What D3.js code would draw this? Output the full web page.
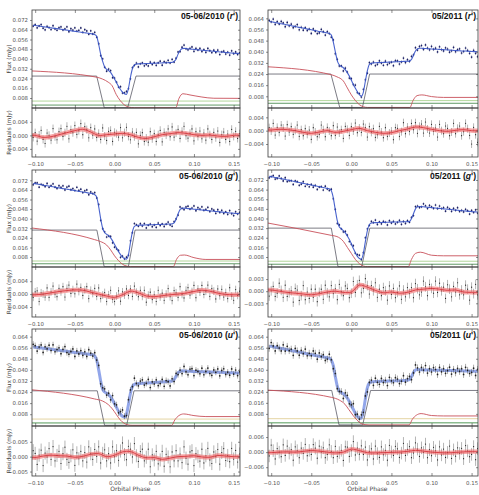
<!DOCTYPE html>
<html>
<head>
<meta charset="utf-8">
<script src="https://cdn.jsdelivr.net/npm/d3@7"></script>
<style>
  body { margin: 0; background: #fff; }
  svg { display: block; font-family: "DejaVu Sans", sans-serif; }
</style>
</head>
<body>
<div id="wrapper"></div>
<script>
// flux / residual arrays are in units of 1e-4 mJy, sampled every 0.0025 in phase from -0.1025
const UNIT = 1e-4;
const gridStart = -0.1025;
const gridStep = 0.0025;
const phaseDomain = [-0.104, 0.158];
const xTicks = [-0.10, -0.05, 0.00, 0.05, 0.10, 0.15];
// phases of the smoothed residual trend (red curve)
const trendPhase = [-0.104, -0.10, -0.09, -0.08, -0.07, -0.06, -0.05, -0.04, -0.03, -0.02, -0.01,
  0.00, 0.01, 0.02, 0.03, 0.04, 0.05, 0.06, 0.07, 0.08, 0.09, 0.10, 0.11, 0.12, 0.13, 0.14, 0.15, 0.158];

// ---- 05-06/2010 r'
const modelR10 = [676,675,673,670,668,665,663,661,658,656,653,651,649,646,644,641,639,637,634,632,629,627,625,622,620,617,615,613,610,608,605,
  600,585,520,440,380,335,315,305,290,265,235,205,175,150,128,115,110,160,250,320,352,358,
  360,361,361,362,363,363,364,365,365,366,367,367,368,369,369,370,371,372,
  380,400,440,470,485,487,
  485,483,482,480,479,477,476,474,472,471,469,468,466,465,463,461,460,458,457,455,453,452,450,449,447,446,446,445];
const residR10 = [-6, 8,-17,1,15,-12,-24,7,0,-14,20, -4,-13,11,20,-3,8,27,-10,17,8, 29,3,14,35,2,26,17,-7,23,1,
  19,-6,6,-12,22,-2,-15,12,15,-18, 9,5,-5,23,-7,8,24,-3,-13,10, -4,9,-25,0,8,-18,-8,-20,11,-10,
  5,-18,2,15,-19,9,1,19,-4,25, -5,7,18,-9,12,27,-1,-8,6,19, -16,11,-3,13,-10,7,-14,19,2,-12,
  9,-7,13,-21,2,10,-12,4,-18,18, -3, 12,-9,5];
const trendR10 = [0,0,-6,-4,2,8,14,18,10,0,2,4,6,2,-6,-9,-4,2,5,8,6,2,0,1,-2,-3,0,0];
const spotR10 = [[-0.104,0.0302],[-0.022,0.025],[-0.015,0.0235],[-0.008,0.021],[-0.003,0.018],[0.002,0.011],
  [0.007,0.006],[0.012,0.0025],[0.018,0.0005],[0.025,0],[0.077,0],[0.081,0.0075],[0.086,0.0115],
  [0.095,0.0105],[0.11,0.0088],[0.125,0.0078],[0.158,0.0077]];
const wdR10 = [[-0.104,0.026],[-0.0225,0.026],[-0.013,0],[0.0165,0],[0.027,0.026],[0.158,0.026]];
const secR10 = [0.0055, 0.0022];

// ---- 05/2011 r'
const modelR11 = [617,616,613,610,607,604,601,599,596,593,590,587,584,581,578,575,573,570,567,564,561,558,555,552,549,546,544,541,538,535,532,
  520,470,400,335,305,295,285,270,250,225,195,165,138,113,92,80,110,190,265,310,318,320,
  321,322,322,323,324,324,325,326,326,327,328,328,329,330,331,331,332,333,
  345,375,405,420,425,425,
  424,423,422,421,420,419,418,418,417,416,415,414,413,412,411,410,409,408,407,406,405,405,404,403,402,401,401,400];
const residR11 = [9, -1,22,-13,10,-5,17,8,-16,18,-4, 12,-11,1,17,-17,3,-15,6,-11,2, -26,9,-4,-18,-11,17,3,-18,10,-1,
  -15,15,-14,11,-7,3,-23,13,4,-14, 12,-1,23,-6,8,-5,20,9,-19,12, -5,6,-20,-12,13,-4,-21,9,-17,-7,
  -1,-27,9,7,-17,-3,24,-9,11,-2, 22,3,24,-8,13,20,-7,26,5,-7, 19,-2,8,-19,19,0,-9,14,7,-15,
  -4,22,-9,7,14,-15,-3,22,6,-14, -40, 10,-12,-35];
const trendR11 = [2,2,4,3,0,-5,-8,-4,0,-5,-2,3,7,0,-5,-8,-6,0,5,11,9,4,0,-2,1,3,0,0];
const spotR11 = [[-0.104,0.0292],[-0.025,0.0235],[-0.018,0.022],[-0.01,0.019],[-0.005,0.014],[0.0,0.009],
  [0.005,0.005],[0.01,0.002],[0.015,0.0005],[0.02,0],[0.073,0],[0.077,0.005],[0.082,0.0085],
  [0.088,0.009],[0.10,0.0078],[0.115,0.0072],[0.158,0.0072]];
const wdR11 = [[-0.104,0.024],[-0.0255,0.024],[-0.0145,0],[0.0138,0],[0.0228,0.024],[0.158,0.024]];
const secR11 = [0.0049, 0.0030];

// ---- 05-06/2010 g'
const modelG10 = [693,692,689,686,683,680,677,675,672,669,666,663,660,657,654,651,649,646,643,640,637,634,631,628,625,622,620,617,614,611,608,
  600,580,500,400,320,285,270,258,240,215,185,155,125,100,80,68,63,100,200,290,335,343,
  345,346,346,347,348,348,349,350,350,351,352,352,353,354,354,355,356,357,
  365,395,440,475,487,488,
  486,484,483,481,479,478,476,474,472,471,469,467,466,464,462,460,459,457,455,453,452,450,448,447,445,444,443,443];
const residG10 = [-10, 7,10,-23,4,0,-9,19,-10,7,25, 0,-8,18,7,23,-9,18,28,2,14, 1,31,8,21,-4,13,23,-14,12,2,
  18,-7,19,-14,-3,5,-23,-2,12,-16, -23,-6,10,-22,7,-3,16,-4,16,-7, 25,6,-8,12,-7,12,-25,-3,6,-17,
  -2,-23,12,-9,3,-19,0,17,-8,-20, 11,4,-10,23,-1,-12,12,20,-3,8, 27,-11,16,6,27,-1,9,28,-7,17,
  9,-15,16,-5,15,-9,5,-14,20,-6, -19, 14,-4,9];
const trendG10 = [-2,-2,0,4,8,11,13,12,6,0,-6,-10,-2,9,4,-6,-8,-5,-2,0,3,8,12,9,3,-1,-2,-2];
const spotG10 = [[-0.104,0.0322],[-0.025,0.0225],[-0.018,0.021],[-0.01,0.018],[-0.005,0.014],[0.0,0.009],
  [0.005,0.005],[0.01,0.002],[0.016,0.0003],[0.02,0],[0.074,0],[0.078,0.006],[0.083,0.0095],
  [0.088,0.0097],[0.10,0.0075],[0.115,0.006],[0.158,0.006]];
const wdG10 = [[-0.104,0.0305],[-0.0223,0.0305],[-0.0131,0],[0.0174,0],[0.0258,0.0305],[0.158,0.0305]];
const secG10 = [0.0047, 0.0024];

// ---- 05/2011 g'
const modelG11 = [750,748,745,741,738,734,731,727,724,720,717,713,710,706,703,699,696,692,689,685,682,678,675,671,668,664,661,657,654,650,647,
  630,570,470,380,330,315,300,280,255,225,190,150,115,85,68,63,110,210,300,350,362,365,
  366,366,367,367,368,368,369,369,370,370,371,371,372,372,373,373,374,375,
  400,440,480,498,500,499,
  497,495,494,492,490,489,487,485,484,482,480,479,477,475,474,472,470,469,467,465,464,462,460,459,457,456,455,454];
const residG11 = [-12, 1,12,-13,-5,20,2,-15,15,-13,-4, 1,-27,7,3,-23,-11,14,-21,-2,-18, 5,-15,5,-26,-3,5,-20,15,-4,-14,
  14,-6,6,-21,17,-1,-11,13,7,-16, -5,24,-3,16,27,-4,7,31,14,-7, 14,1,21,-15,5,-11,9,1,-22,13,
  -8,7,-16,-3,13,-20,3,-14,9,-6, 9,-16,19,6,-9,-2,25,11,-11,17, 7,-5,25,-3,20,1,10,-18,16,5,
  -14,12,-2,21,-9,3,-9,15,5,-22, 10, -6,17,-9];
const trendG11 = [3,3,0,-3,-5,-7,-9,-6,-2,0,-3,-2,15,10,2,-4,-2,-5,-3,3,5,7,5,2,3,-2,-3,-3];
const spotG11 = [[-0.104,0.0362],[-0.025,0.026],[-0.018,0.025],[-0.01,0.021],[-0.005,0.016],[0.0,0.011],
  [0.005,0.006],[0.01,0.0025],[0.015,0.0005],[0.02,0],[0.071,0],[0.075,0.006],[0.08,0.011],
  [0.086,0.012],[0.10,0.0095],[0.115,0.009],[0.158,0.009]];
const wdG11 = [[-0.104,0.032],[-0.025,0.032],[-0.0167,0],[0.0129,0],[0.023,0.032],[0.158,0.032]];
const secG11 = [0.0045, 0.0020];

// ---- 05-06/2010 u'
const modelU10 = [565,564,562,560,558,556,555,553,551,549,547,545,543,541,540,538,536,534,532,530,528,526,524,522,521,519,517,515,513,511,509,
  500,470,400,320,260,240,232,222,205,182,155,128,102,80,65,59,80,150,230,280,296,300,
  301,302,303,304,305,306,307,308,309,310,311,312,313,314,315,316,318,320,
  330,355,380,390,393,392,
  391,390,390,389,389,388,388,387,387,386,386,385,385,384,384,383,383,382,382,381,380,380,379,379,378,378,377,377];
const residU10 = [20, 11,-26,5,22,-30,12,-1,27,-9,34, -14,4,18,-23,10,32,-9,-19,3,23, -29,13,-7,18,-14,14,-18,33,10,-9,
  24,1,33,-21,11,23,-14,10,-21,33, 0,20,-12,19,46,7,-10,35,25,-1, 44,3,-16,17,25,-14,-2,25,-34,6,
  -11,18,-24,-11,18,-32,8,-1,-34,16, -14,20,-14,9,-20,33,-5,-25,16,20, -30,10,1,-15,25,-21,3,28,-11,-23,
  16,0,24,-25,14,27,-13,4,-17,28, -8, 21,-18,9];
const trendU10 = [-3,-3,2,5,3,2,-2,1,8,10,0,5,16,17,5,-4,-3,-9,-5,0,1,3,-1,-2,4,2,0,0];
const spotU10 = [[-0.104,0.0256],[-0.025,0.019],[-0.015,0.0175],[-0.008,0.015],[-0.003,0.012],[0.002,0.008],
  [0.007,0.004],[0.012,0.0015],[0.017,0.0003],[0.022,0],[0.072,0],[0.076,0.004],[0.081,0.007],
  [0.087,0.0082],[0.10,0.007],[0.115,0.0063],[0.158,0.0063]];
const wdU10 = [[-0.104,0.0249],[-0.0218,0.0249],[-0.0126,0],[0.0152,0],[0.0245,0.0249],[0.158,0.0249]];
const secU10 = [0.0045, 0.0017];

// ---- 05/2011 u'
const modelU11 = [571,570,567,564,561,558,555,552,549,546,543,540,537,534,531,528,525,522,519,516,513,510,507,504,501,498,496,493,490,487,484,
  470,430,350,280,245,235,225,212,195,170,140,112,85,62,50,48,100,190,270,305,312,314,
  315,315,316,316,317,317,318,318,319,319,320,320,321,321,322,323,325,330,
  350,380,398,402,401,400,
  399,399,398,398,398,397,397,397,396,396,396,395,395,395,394,394,394,393,393,393,392,392,391,391,390,390,389,389];
const residU11 = [-15, 28,6,-27,14,0,-18,29,-13,24,-4, 10,-32,21,6,-22,16,-5,31,-14,7, -9,30,16,-24,24,0,17,-22,-9,29,
  3,-22,23,-17,-2,7,-33,21,20,-17, 6,42,-11,16,-8,25,-9,20,-31,3, 13,-27,24,-6,-21,21,-10,7,-32,27,
  1,-13,23,13,-21,-4,35,-13,11,22, -22,-3,37,12,-17,17,-1,32,-22,10, -14,19,5,-31,21,-11,12,-21,-1,24,
  -25,9,-16,17,-5,15,-26,26,5,-18, -9, 22,-30,14];
const trendU11 = [-2,-2,0,1,0,3,6,4,0,-3,0,12,6,-2,-3,-2,-1,0,3,7,4,0,-2,-3,-1,1,2,2];
const spotU11 = [[-0.104,0.0252],[-0.025,0.020],[-0.015,0.018],[-0.008,0.015],[-0.003,0.011],[0.002,0.007],
  [0.007,0.0035],[0.012,0.001],[0.017,0.0002],[0.022,0],[0.072,0],[0.076,0.004],[0.081,0.007],
  [0.087,0.0082],[0.10,0.0068],[0.115,0.0065],[0.158,0.0065]];
const wdU11 = [[-0.104,0.025],[-0.0245,0.025],[-0.0154,0],[0.0141,0],[0.024,0.025],[0.158,0.025]];
const secU11 = [0.0045, 0.0015];

// tick labels
const fluxTicks72 = [0.008, 0.016, 0.024, 0.032, 0.040, 0.048, 0.056, 0.064, 0.072];
const fluxTicks64 = [0.008, 0.016, 0.024, 0.032, 0.040, 0.048, 0.056, 0.064];
const resTicks4 = [-0.004, 0.000, 0.004];
const resTicks3 = [-0.003, 0.000, 0.003];
const resTicks5 = [-0.005, 0.000, 0.005];
const resTicks6 = [-0.006, 0.000, 0.006];

const panels = [
  { date: "05-06/2010", band: "r", col: 0, row: 0, model: modelR10, resid: residR10, trend: trendR10, spot: spotR10, wd: wdR10, sec: secR10,
    fluxDomain: [-0.0002, 0.0802], fluxTicks: fluxTicks72, resDomain: [-0.0064, 0.0081], resTicks: resTicks4, err: 0.0012 },
  { date: "05/2011", band: "r", col: 1, row: 0, model: modelR11, resid: residR11, trend: trendR11, spot: spotR11, wd: wdR11, sec: secR11,
    fluxDomain: [-0.0004, 0.0700], fluxTicks: fluxTicks64, resDomain: [-0.0079, 0.0068], resTicks: resTicks4, err: 0.0012 },
  { date: "05-06/2010", band: "g", col: 0, row: 1, model: modelG10, resid: residG10, trend: trendG10, spot: spotG10, wd: wdG10, sec: secG10,
    fluxDomain: [-0.0003, 0.0806], fluxTicks: fluxTicks72, resDomain: [-0.0071, 0.0084], resTicks: resTicks4, err: 0.0012 },
  { date: "05/2011", band: "g", col: 1, row: 1, model: modelG11, resid: residG11, trend: trendG11, spot: spotG11, wd: wdG11, sec: secG11,
    fluxDomain: [-0.0003, 0.0803], fluxTicks: fluxTicks72, resDomain: [-0.0064, 0.0060], resTicks: resTicks3, err: 0.0012 },
  { date: "05-06/2010", band: "u", col: 0, row: 2, model: modelU10, resid: residU10, trend: trendU10, spot: spotU10, wd: wdU10, sec: secU10,
    fluxDomain: [-0.0005, 0.0695], fluxTicks: fluxTicks64, resDomain: [-0.0065, 0.0103], resTicks: resTicks5, err: 0.0022 },
  { date: "05/2011", band: "u", col: 1, row: 2, model: modelU11, resid: residU11, trend: trendU11, spot: spotU11, wd: wdU11, sec: secU11,
    fluxDomain: [-0.0008, 0.0696], fluxTicks: fluxTicks64, resDomain: [-0.0095, 0.0104], resTicks: resTicks6, err: 0.0025 },
];

const width = 479, height = 495;
const cols = [[32, 240], [268, 478]];
const rows = [
  { main: [10, 108], res: [108, 157] },
  { main: [170, 267], res: [267, 317] },
  { main: [329, 426], res: [426, 476] },
];

const svg = d3.select("#wrapper").append("svg")
  .attr("width", width).attr("height", height);
const defs = svg.append("defs");

const fmt3 = d3.format(".3f");
const fmt2 = d3.format(".2f");

function styleAxis(g) {
  g.select(".domain").remove();
  g.selectAll("line").attr("stroke", "#444").attr("stroke-width", 0.6);
  g.selectAll("text").attr("fill", "#555").attr("font-size", 5.4)
    .attr("font-family", "DejaVu Sans, sans-serif");
}

panels.forEach((p, k) => {
  const [x0, x1] = cols[p.col];
  const row = rows[p.row];
  const isU = p.band === "u";

  const x = d3.scaleLinear().domain(phaseDomain).range([x0, x1]);
  const y = d3.scaleLinear().domain(p.fluxDomain).range([row.main[1], row.main[0]]);
  const yr = d3.scaleLinear().domain(p.resDomain).range([row.res[1], row.res[0]]);

  const pts = p.model.map((m, i) => ({
    phase: gridStart + gridStep * i,
    model: m * UNIT,
    res: p.resid[i] * UNIT,
    flux: (m + p.resid[i]) * UNIT,
  }));

  // clip regions
  defs.append("clipPath").attr("id", `cm${k}`).append("rect")
    .attr("x", x0).attr("y", row.main[0]).attr("width", x1 - x0).attr("height", row.main[1] - row.main[0]);
  defs.append("clipPath").attr("id", `cr${k}`).append("rect")
    .attr("x", x0).attr("y", row.res[0]).attr("width", x1 - x0).attr("height", row.res[1] - row.res[0]);

  // ---------- main panel
  const main = svg.append("g").attr("clip-path", `url(#cm${k})`);

  const secColors = isU ? ["#e2cf98", "#3f8f46"] : ["#a9d18e", "#4f8f55"];
  p.sec.forEach((v, j) => {
    main.append("line")
      .attr("x1", x0).attr("x2", x1).attr("y1", y(v)).attr("y2", y(v))
      .attr("stroke", secColors[j]).attr("stroke-width", 0.9);
  });

  const compLine = d3.line().x(d => x(d[0])).y(d => y(d[1]));
  main.append("path").attr("d", compLine(p.wd))
    .attr("fill", "none").attr("stroke", "#5a5a66").attr("stroke-width", 0.8);
  main.append("path").attr("d", compLine.curve(d3.curveMonotoneX)(p.spot))
    .attr("fill", "none").attr("stroke", "#c8505a").attr("stroke-width", 0.9);

  const modelLine = d3.line().x(d => x(d.phase)).y(d => y(d.model)).curve(d3.curveMonotoneX);
  if (isU) {
    main.append("path").attr("d", modelLine(pts))
      .attr("fill", "none").attr("stroke", "#7f97e6").attr("stroke-width", 3).attr("opacity", 0.85);
  }

  main.append("g").selectAll("line").data(pts).join("line")
    .attr("x1", d => x(d.phase)).attr("x2", d => x(d.phase))
    .attr("y1", d => y(d.flux - p.err)).attr("y2", d => y(d.flux + p.err))
    .attr("stroke", isU ? "#555" : "#5d6490").attr("stroke-width", 0.5);
  main.append("g").selectAll("circle").data(pts).join("circle")
    .attr("cx", d => x(d.phase)).attr("cy", d => y(d.flux)).attr("r", 0.85)
    .attr("fill", isU ? "#222" : "#1e2266");

  if (!isU) {
    main.append("path").attr("d", modelLine(pts))
      .attr("fill", "none").attr("stroke", "#3552c8").attr("stroke-width", 1.1).attr("opacity", 0.9);
  }

  // ---------- residual panel
  const res = svg.append("g").attr("clip-path", `url(#cr${k})`);
  res.append("g").selectAll("line").data(pts).join("line")
    .attr("x1", d => x(d.phase)).attr("x2", d => x(d.phase))
    .attr("y1", d => yr(d.res - p.err)).attr("y2", d => yr(d.res + p.err))
    .attr("stroke", "#6a6a6a").attr("stroke-width", 0.5);
  res.append("g").selectAll("circle").data(pts).join("circle")
    .attr("cx", d => x(d.phase)).attr("cy", d => yr(d.res)).attr("r", 0.6)
    .attr("fill", "#222");

  const trendLine = d3.line().x((d, i) => x(trendPhase[i])).y(d => yr(d * UNIT)).curve(d3.curveCatmullRom);
  res.append("path").attr("d", trendLine(p.trend))
    .attr("fill", "none").attr("stroke", "#f06a6a").attr("stroke-width", 4.4).attr("opacity", 0.6);
  res.append("path").attr("d", trendLine(p.trend))
    .attr("fill", "none").attr("stroke", "#d42a32").attr("stroke-width", 0.8);

  // ---------- axes
  svg.append("g").attr("transform", `translate(${x0},0)`)
    .call(d3.axisLeft(y).tickValues(p.fluxTicks).tickSize(2).tickPadding(2).tickFormat(fmt3))
    .call(styleAxis);
  svg.append("g").attr("transform", `translate(${x0},0)`)
    .call(d3.axisLeft(yr).tickValues(p.resTicks).tickSize(2).tickPadding(2).tickFormat(fmt3))
    .call(styleAxis);
  svg.append("g").attr("transform", `translate(${x1},0)`)
    .call(d3.axisLeft(y).tickValues(p.fluxTicks).tickSize(2).tickFormat(""))
    .call(styleAxis);
  svg.append("g").attr("transform", `translate(${x1},0)`)
    .call(d3.axisLeft(yr).tickValues(p.resTicks).tickSize(2).tickFormat(""))
    .call(styleAxis);

  svg.append("g").attr("transform", `translate(0,${row.main[0]})`)
    .call(d3.axisBottom(x).tickValues(xTicks).tickSize(3).tickFormat(""))
    .call(styleAxis);
  svg.append("g").attr("transform", `translate(0,${row.main[1]})`)
    .call(d3.axisTop(x).tickValues(xTicks).tickSize(3).tickFormat(""))
    .call(styleAxis);
  svg.append("g").attr("transform", `translate(0,${row.main[1]})`)
    .call(d3.axisBottom(x).tickValues(xTicks).tickSize(3).tickFormat(""))
    .call(styleAxis);
  svg.append("g").attr("transform", `translate(0,${row.res[1]})`)
    .call(d3.axisTop(x).tickValues(xTicks).tickSize(3).tickFormat(""))
    .call(styleAxis);
  svg.append("g").attr("transform", `translate(0,${row.res[1]})`)
    .call(d3.axisBottom(x).tickValues(xTicks).tickSize(0).tickPadding(5).tickFormat(fmt2))
    .call(styleAxis);

  // frames
  [row.main, row.res].forEach(r => {
    svg.append("rect")
      .attr("x", x0).attr("y", r[0]).attr("width", x1 - x0).attr("height", r[1] - r[0])
      .attr("fill", "none").attr("stroke", "#3a3a3a").attr("stroke-width", 0.8);
  });

  // title
  const title = svg.append("text")
    .attr("x", x1 - 2).attr("y", row.main[0] + 9)
    .attr("text-anchor", "end")
    .attr("font-family", "Liberation Sans, Arial, sans-serif")
    .attr("font-weight", "bold").attr("font-size", 8.6).attr("fill", "#111");
  title.append("tspan").text(`${p.date} (`);
  title.append("tspan").attr("font-style", "italic").text(p.band);
  title.append("tspan").text("')");

  // axis labels
  if (p.col === 0) {
    svg.append("text")
      .attr("transform", `translate(11,${(row.main[0] + row.main[1]) / 2}) rotate(-90)`)
      .attr("text-anchor", "middle").attr("font-size", 5.8).attr("fill", "#444")
      .text("Flux (mJy)");
    svg.append("text")
      .attr("transform", `translate(11,${(row.res[0] + row.res[1]) / 2}) rotate(-90)`)
      .attr("text-anchor", "middle").attr("font-size", 5.8).attr("fill", "#444")
      .text("Residuals (mJy)");
  }
  if (p.row === 2) {
    svg.append("text")
      .attr("x", x(0.02)).attr("y", 490.5)
      .attr("text-anchor", "middle").attr("font-size", 6).attr("fill", "#444")
      .text("Orbital Phase");
  }
});
</script>
</body>
</html>
